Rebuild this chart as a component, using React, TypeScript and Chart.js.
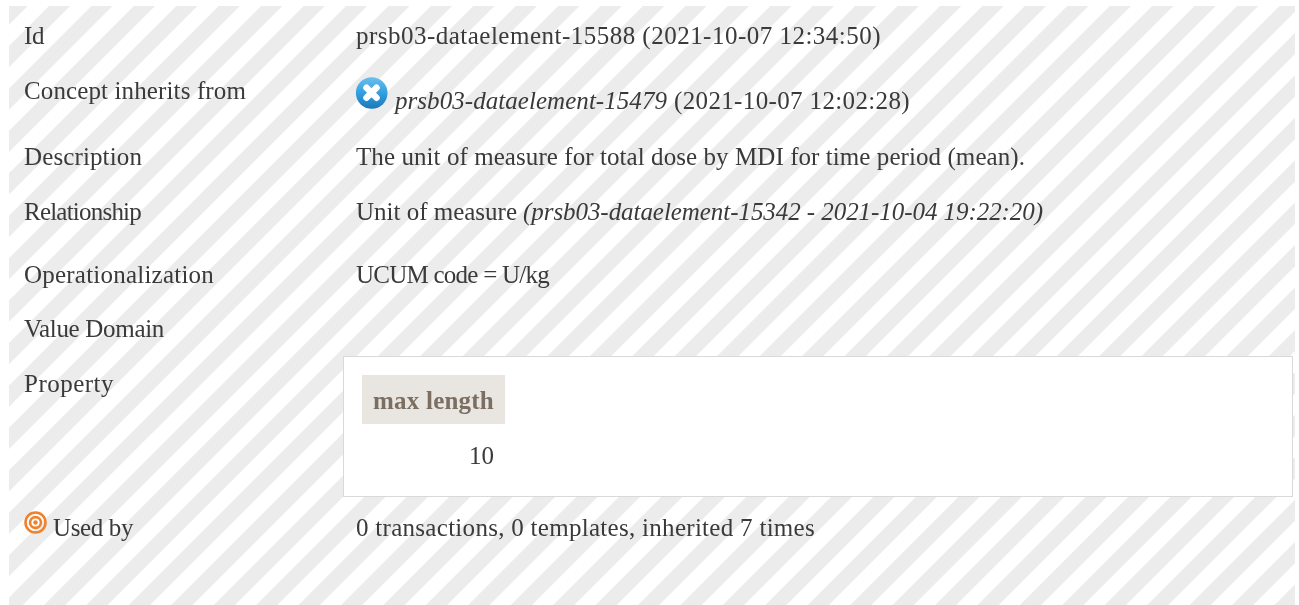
import React, { useEffect, useRef } from "react";
import { Chart, registerables } from "chart.js";

Chart.register(...registerables);

// Content
const rowLabels = ["Id", "Concept inherits from", "Description", "Relationship", "Operationalization", "Value Domain", "Property"];
const idValue = "prsb03-dataelement-15588 (2021-10-07 12:34:50)";
const inheritsRef = "prsb03-dataelement-15479";
const inheritsDate = "(2021-10-07 12:02:28)";
const descriptionValue = "The unit of measure for total dose by MDI for time period (mean).";
const relationshipName = "Unit of measure";
const relationshipRef = "(prsb03-dataelement-15342 - 2021-10-04 19:22:20)";
const operationalValue = "UCUM code = U/kg";
const propertyHeader = "max length";
const propertyValue = "10";
const usedByLabel = "Used by";
const usedByValue = "0 transactions, 0 templates, inherited 7 times";

// Layout
const W = 1299;
const H = 605;
const FONT = '"Liberation Serif"';
const TEXT = "#3a3a3a";
const labelBaselines = [44, 99, 165, 220, 283, 337, 392];
const labelWidths = [20, 222, 118, 117, 190, 140, 90];

type Run = { t: string; x: number; y: number; w: number; style?: string; color?: string };

const runs = (): Run[] => [
  ...rowLabels.map((t, i) => ({ t, x: 24, y: labelBaselines[i], w: labelWidths[i] })),
  { t: usedByLabel, x: 53, y: 536, w: 80 },
  { t: idValue, x: 356, y: 44, w: 525 },
  { t: inheritsRef, x: 395, y: 109, w: 272, style: "italic" },
  { t: inheritsDate, x: 674, y: 109, w: 236 },
  { t: descriptionValue, x: 356, y: 165, w: 669 },
  { t: relationshipName, x: 356, y: 220, w: 161 },
  { t: relationshipRef, x: 523, y: 220, w: 520, style: "italic" },
  { t: operationalValue, x: 356, y: 283, w: 193 },
  { t: propertyHeader, x: 373, y: 409, w: 121, style: "bold", color: "#7b6f63" },
  { t: propertyValue, x: 469, y: 464, w: 25 },
  { t: usedByValue, x: 356, y: 536, w: 459 },
];

const pagePlugin = {
  id: "page",
  beforeDraw(chart: any) {
    const { ctx } = chart;
    const sx = chart.scales.x;
    const sy = chart.scales.y;
    const px = (v: number) => sx.getPixelForValue(v);
    const py = (v: number) => sy.getPixelForValue(v);

    ctx.save();
    ctx.fillStyle = "#ffffff";
    ctx.fillRect(0, 0, W, H);

    // striped panel
    ctx.save();
    ctx.beginPath();
    ctx.rect(px(9), py(6), px(1295) - px(9), py(H) - py(6));
    ctx.clip();
    ctx.fillStyle = "#ececec";
    const period = 42.43;
    const band = 21.2;
    for (let s = 55 - period * 2; s < W + H + period; s += period) {
      ctx.beginPath();
      ctx.moveTo(s, 0);
      ctx.lineTo(s + band, 0);
      ctx.lineTo(s + band - H, H);
      ctx.lineTo(s - H, H);
      ctx.closePath();
      ctx.fill();
    }
    ctx.restore();

    // property box
    ctx.fillStyle = "#ffffff";
    ctx.fillRect(px(343), py(356), 950, 141);
    ctx.strokeStyle = "#d9d9d9";
    ctx.lineWidth = 1;
    ctx.strokeRect(px(343) + 0.5, py(356) + 0.5, 949, 140);
    ctx.fillStyle = "#e9e6e1";
    ctx.fillRect(px(362), py(375), 143, 49);

    // blue icon
    const blue = ctx.createLinearGradient(0, 77, 0, 109);
    blue.addColorStop(0, "#6cc0ee");
    blue.addColorStop(0.55, "#2f9bdc");
    blue.addColorStop(1, "#1a78b8");
    ctx.fillStyle = blue;
    ctx.beginPath();
    ctx.arc(px(371.7), py(93), 15.8, 0, Math.PI * 2);
    ctx.fill();
    ctx.strokeStyle = "#ffffff";
    ctx.lineWidth = 6.5;
    ctx.lineCap = "round";
    ctx.beginPath();
    ctx.moveTo(px(366.5), py(87.8));
    ctx.lineTo(px(376.5), py(97.8));
    ctx.moveTo(px(376.5), py(87.8));
    ctx.lineTo(px(366.5), py(97.8));
    ctx.stroke();

    // orange target icon
    ctx.strokeStyle = "#f0822d";
    ctx.lineWidth = 2.6;
    ctx.beginPath();
    ctx.arc(px(35.5), py(522.5), 10, 0, Math.PI * 2);
    ctx.stroke();
    ctx.beginPath();
    ctx.arc(px(35.5), py(522.5), 5.4, 0, Math.PI * 2);
    ctx.stroke();
    ctx.fillStyle = "#f0822d";
    ctx.beginPath();
    ctx.arc(px(35.5), py(522.5), 2.2, 0, Math.PI * 2);
    ctx.fill();

    // text, fitted to the measured width of each run
    ctx.textBaseline = "alphabetic";
    ctx.textAlign = "left";
    for (const r of runs()) {
      ctx.font = `${r.style ?? ""} 25px ${FONT}`;
      ctx.fillStyle = r.color ?? TEXT;
      ctx.letterSpacing = "0px";
      const natural = ctx.measureText(r.t).width;
      ctx.letterSpacing = `${(r.w - natural) / r.t.length}px`;
      ctx.fillText(r.t, px(r.x), py(r.y));
    }
    ctx.letterSpacing = "0px";
    ctx.restore();
  },
};

export default function App() {
  const ref = useRef<HTMLCanvasElement>(null);
  useEffect(() => {
    const chart = new Chart(ref.current as HTMLCanvasElement, {
      type: "scatter",
      data: { datasets: [] },
      options: {
        animation: false,
        responsive: false,
        events: [],
        layout: { padding: 0 },
        plugins: { legend: { display: false }, tooltip: { enabled: false } },
        scales: {
          x: { type: "linear", min: 0, max: W, display: false },
          y: { type: "linear", min: 0, max: H, reverse: true, display: false },
        },
      },
      plugins: [pagePlugin],
    });
    return () => chart.destroy();
  }, []);
  return (
    <div style={{ position: "absolute", left: 0, top: 0, width: W, height: H, overflow: "hidden" }}>
      <canvas ref={ref} width={W} height={H} style={{ display: "block" }} />
    </div>
  );
}
